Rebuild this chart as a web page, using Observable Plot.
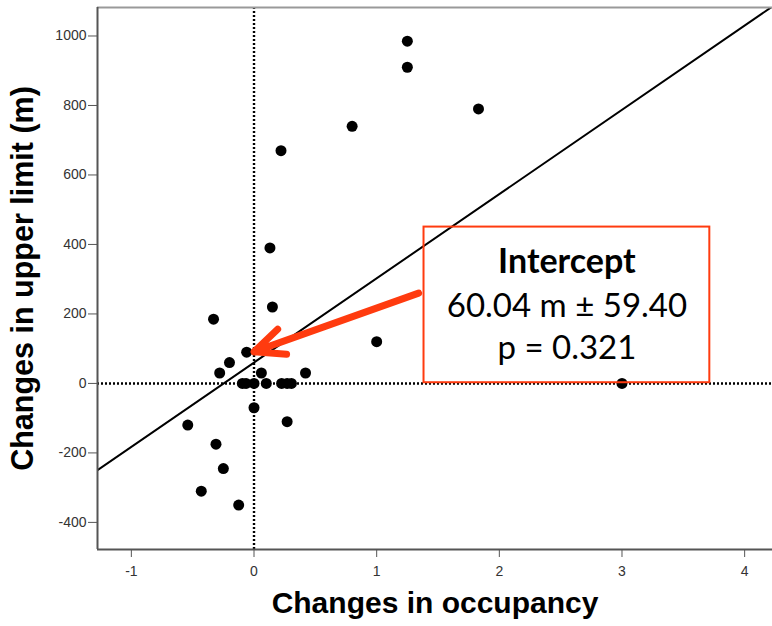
<!DOCTYPE html>
<html>
<head>
<meta charset="utf-8">
<script src="https://cdn.jsdelivr.net/npm/d3@7"></script>
<script src="https://cdn.jsdelivr.net/npm/@observablehq/plot@0.6"></script>
<style>
  html, body { margin: 0; padding: 0; background: white; }
</style>
</head>
<body>
<div id="chart"></div>
<script>
// ---- data ----
const occupancy  = [0.15, -0.33, -0.06, -0.20, -0.28, 0.06, 0.42, -0.095, -0.065, 0, 0.10, 0.225, 0.27, 0.305, 3.0, 0, 0.27, -0.54, -0.31, -0.25, -0.43, -0.125, 1.0, 1.25, 1.25, 1.83, 0.80, 0.22, 0.13];
const upperLimit = [220, 185, 90, 60, 30, 30, 30, 0, 0, 0, 0, 0, 0, 0, 0, -70, -110, -120, -175, -245, -310, -350, 120, 985, 910, 790, 740, 670, 390];

const xTicks = [-1, 0, 1, 2, 3, 4];
const yTicks = [-400, -200, 0, 200, 400, 600, 800, 1000];
const xDomain = [-1.276, 4.227];
const yDomain = [-478, 1082];

const regIntercept = 60.04;
const regSlope = 242.5;

const boxTitle = "Intercept";
const boxLines = ["60.04 m \u00b1 59.40", "p = 0.321"];
const boxTitleY = 350;
const boxLineY = [222, 101];
const boxX = [1.386, 3.716];
const boxY = [2, 450];
const arrowFrom = [1.342, 260];
const arrowTo = [0, 91];

const xTitle = "Changes in occupancy";
const yTitle = "Changes in upper limit (m)";

// ---- derived tables ----
const points = occupancy.map((x, i) => ({x, y: upperLimit[i]}));
const regLine = xDomain.map(x => ({x, y: regIntercept + regSlope * x}));
const boxCenterX = (boxX[0] + boxX[1]) / 2;
const boxText = boxLines.map((t, i) => ({t, x: boxCenterX, y: boxLineY[i]}));
const red = "#ff3b0f";
const boxFont = "Lato, 'Open Sans', sans-serif";

const chart = Plot.plot({
  width: 772,
  height: 626,
  marginLeft: 97,
  marginRight: 0,
  marginTop: 7,
  marginBottom: 77,
  x: {domain: xDomain},
  y: {domain: yDomain},
  style: {fontFamily: "'Liberation Sans', Arial, sans-serif", background: "white", overflow: "visible"},
  marks: [
    Plot.ruleX([0], {stroke: "black", strokeWidth: 2.4, strokeDasharray: "2,2"}),
    Plot.ruleY([0], {stroke: "black", strokeWidth: 2.4, strokeDasharray: "2,2"}),
    Plot.line(regLine, {x: "x", y: "y", stroke: "black", strokeWidth: 2, clip: true}),
    Plot.dot(points, {x: "x", y: "y", r: 5.5, fill: "black", stroke: null}),
    Plot.ruleY([yDomain[1]], {stroke: "#999", strokeWidth: 2}),
    Plot.ruleX([xDomain[0]], {stroke: "#555", strokeWidth: 2}),
    Plot.ruleY([yDomain[0]], {stroke: "#555", strokeWidth: 2}),
    Plot.axisX({ticks: xTicks, tickSize: 8, tickPadding: 9, fontSize: 14, tickFormat: d => String(d), label: null, stroke: "#555", color: "#333"}),
    Plot.axisY({ticks: yTicks, tickSize: 9, tickPadding: 2, fontSize: 14, tickFormat: d => String(d), label: null, stroke: "#555", color: "#333"}),
    Plot.rect([{x1: boxX[0], x2: boxX[1], y1: boxY[0], y2: boxY[1]}], {x1: "x1", x2: "x2", y1: "y1", y2: "y2", fill: "none", stroke: red, strokeWidth: 2}),
    Plot.arrow([{x1: arrowFrom[0], y1: arrowFrom[1], x2: arrowTo[0], y2: arrowTo[1]}], {x1: "x1", y1: "y1", x2: "x2", y2: "y2", stroke: red, strokeWidth: 7, headLength: 7, headAngle: 48}),
    Plot.text([boxTitle], {x: boxCenterX, y: boxTitleY, fontSize: 34, fontWeight: "bold", fontFamily: boxFont, fill: "black"}),
    Plot.text(boxText, {x: "x", y: "y", text: "t", fontSize: 33, fontFamily: boxFont, fill: "black"}),
    Plot.text([xTitle], {frameAnchor: "bottom", lineAnchor: "middle", textAnchor: "middle", dy: 54, fontSize: 30, fontWeight: "bold", fill: "black"}),
    Plot.text([yTitle], {frameAnchor: "left", lineAnchor: "middle", textAnchor: "middle", rotate: -90, dx: -74, fontSize: 30.5, fontWeight: "bold", fill: "black"})
  ]
});
document.getElementById("chart").appendChild(chart);
</script>
</body>
</html>
